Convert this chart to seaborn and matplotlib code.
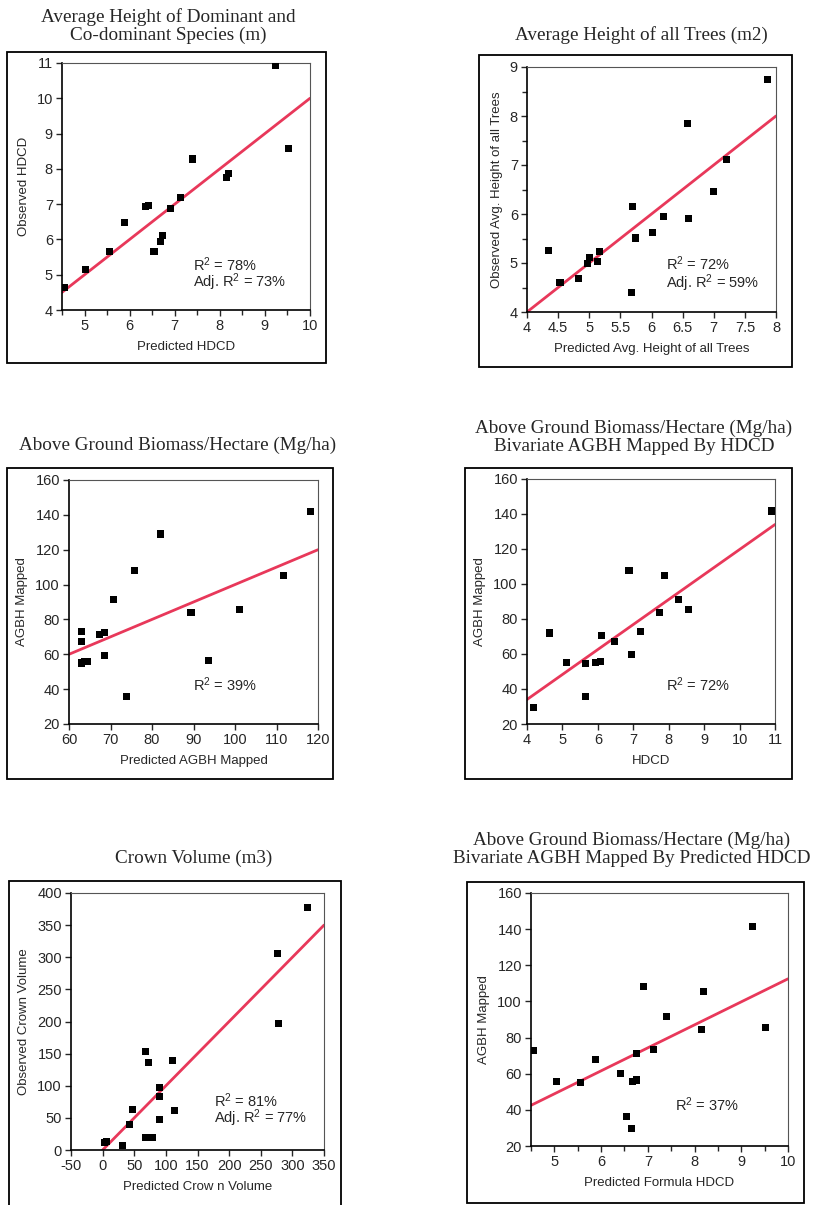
import matplotlib
matplotlib.use('Agg')
import matplotlib.pyplot as plt
import matplotlib.patches as patches
from matplotlib.ticker import MultipleLocator, FormatStrFormatter
import seaborn as sns

sns.set_style('ticks')
plt.rcParams['font.family'] = ['Liberation Sans', 'DejaVu Sans']
plt.rcParams['mathtext.default'] = 'regular'
plt.rcParams['axes.unicode_minus'] = False

W, H = 817, 1205

# 1. Average height of dominant and co-dominant species
hdcd_pred = [4.55, 5.03, 5.56, 5.88, 6.35, 6.42, 6.54, 6.68, 6.73, 6.90, 7.12, 7.40, 8.14, 8.20, 9.23, 9.52]
hdcd_obs = [4.65, 5.15, 5.67, 6.48, 6.93, 6.95, 5.67, 5.95, 6.10, 6.88, 7.20, 8.28, 7.76, 7.86, 10.92, 8.57]
hdcd_fit_x = [4.5, 10]
hdcd_fit_y = [4.5, 10]

# 2. Average height of all trees
aht_pred = [4.34, 4.53, 4.82, 4.97, 5.01, 5.13, 5.16, 5.68, 5.70, 5.74, 6.02, 6.20, 6.58, 6.60, 6.99, 7.20, 7.87]
aht_obs = [5.26, 4.61, 4.68, 4.99, 5.11, 5.03, 5.24, 4.39, 6.16, 5.51, 5.63, 5.94, 7.84, 5.90, 6.46, 7.11, 8.74]
aht_fit_x = [4, 8]
aht_fit_y = [4, 8]

# 3. AGBH predicted vs mapped
agbh_pred = [63.1, 63.1, 63.1, 63.7, 64.4, 67.3, 68.6, 68.6, 70.7, 73.9, 75.7, 82.0, 89.4, 93.7, 101.1, 111.6, 118.2]
agbh_obs = [73.1, 67.4, 55.0, 55.6, 55.6, 71.1, 72.5, 59.5, 91.2, 35.8, 108.2, 129.0, 84.2, 56.3, 85.7, 105.4, 141.8]
agbh_fit_x = [60, 120]
agbh_fit_y = [60, 120]

# 4. AGBH mapped by HDCD
bv_hdcd = [4.18, 4.63, 5.12, 5.65, 5.65, 5.93, 6.07, 6.11, 6.46, 6.88, 6.95, 7.20, 7.75, 7.87, 8.28, 8.56, 10.91]
bv_agbh = [29.3, 72.0, 55.2, 54.6, 35.6, 55.3, 55.9, 70.7, 67.3, 107.9, 59.5, 72.8, 83.9, 105.1, 91.0, 85.4, 141.7]
bv_fit_x = [4, 11]
bv_fit_y = [34, 134]

# 5. Crown volume
cv_pred = [2.6, 6.8, 31.1, 42.6, 46.8, 68.4, 68.4, 72.6, 78.9, 90.5, 90.5, 90.5, 110.5, 114.2, 275.8, 278.4, 323.7]
cv_obs = [11.4, 13.0, 7.3, 39.9, 63.7, 153.4, 19.7, 135.8, 19.7, 97.4, 83.4, 47.2, 139.4, 61.7, 305.7, 197.4, 377.7]
cv_fit_x = [0, 350]
cv_fit_y = [0, 350]

# 6. AGBH mapped by predicted HDCD
bp_hdcd = [4.55, 5.04, 5.56, 5.89, 6.41, 6.55, 6.66, 6.68, 6.76, 6.75, 6.91, 7.13, 7.40, 8.14, 8.19, 9.24, 9.52]
bp_agbh = [72.7, 55.9, 55.2, 67.7, 60.1, 36.2, 29.9, 55.9, 56.5, 71.2, 108.4, 73.3, 91.5, 84.5, 105.5, 141.7, 85.7]
bp_fit_x = [4.5, 10]
bp_fit_y = [42.5, 112.5]

panels = [
    dict(x=hdcd_pred, y=hdcd_obs, fx=hdcd_fit_x, fy=hdcd_fit_y,
         frame=(7, 52, 326, 363), box=(62, 63, 310, 310),
         title='Average Height of Dominant and\nCo-dominant Species (m)', tpos=(168, 26),
         xlim=(4.5, 10), ylim=(4, 11), xmaj=1, xmin=0.5, ymaj=1, ymin=None,
         xlabel='Predicted HDCD', ylabel='Observed HDCD',
         notes=['R$^2$ = 78%', 'Adj. R$^2$ = 73%'], npos=(0.53, 0.159, 0.092)),
    dict(x=aht_pred, y=aht_obs, fx=aht_fit_x, fy=aht_fit_y,
         frame=(479, 55, 792, 367), box=(527, 67, 776, 312),
         title='Average Height of all Trees (m2)', tpos=(641, 35),
         xlim=(4, 8), ylim=(4, 9), xmaj=0.5, xmin=None, ymaj=1, ymin=0.5,
         xlabel='Predicted Avg. Height of all Trees', ylabel='Observed Avg. Height of all Trees',
         notes=['R$^2$ = 72%', 'Adj. R$^2$ = 59%'], npos=(0.558, 0.170, 0.099)),
    dict(x=agbh_pred, y=agbh_obs, fx=agbh_fit_x, fy=agbh_fit_y,
         frame=(7, 468, 333, 779), box=(69, 480, 318, 724),
         title='Above Ground Biomass/Hectare (Mg/ha)', tpos=(178, 445),
         xlim=(60, 120), ylim=(20, 160), xmaj=10, xmin=None, ymaj=20, ymin=None,
         xlabel='Predicted AGBH Mapped', ylabel='AGBH Mapped',
         notes=['R$^2$ = 39%'], npos=(0.496, 0.134, None)),
    dict(x=bv_hdcd, y=bv_agbh, fx=bv_fit_x, fy=bv_fit_y,
         frame=(465, 468, 792, 779), box=(527, 479, 775, 724),
         title='Above Ground Biomass/Hectare (Mg/ha)\nBivariate AGBH Mapped By HDCD', tpos=(634, 437),
         xlim=(4, 11), ylim=(20, 160), xmaj=1, xmin=None, ymaj=20, ymin=None,
         xlabel='HDCD', ylabel='AGBH Mapped',
         notes=['R$^2$ = 72%'], npos=(0.56, 0.135, None)),
    dict(x=cv_pred, y=cv_obs, fx=cv_fit_x, fy=cv_fit_y,
         frame=(9, 881, 341, 1260), box=(71, 893, 324, 1150),
         title='Crown Volume (m3)', tpos=(194, 858),
         xlim=(-50, 350), ylim=(0, 400), xmaj=50, xmin=None, ymaj=50, ymin=None,
         xlabel='Predicted Crow n Volume', ylabel='Observed Crown Volume',
         notes=['R$^2$ = 81%', 'Adj. R$^2$ = 77%'], npos=(0.567, 0.168, 0.104)),
    dict(x=bp_hdcd, y=bp_agbh, fx=bp_fit_x, fy=bp_fit_y,
         frame=(467, 882, 804, 1203), box=(531, 893, 788, 1146),
         title='Above Ground Biomass/Hectare (Mg/ha)\nBivariate AGBH Mapped By Predicted HDCD', tpos=(632, 849),
         xlim=(4.5, 10), ylim=(20, 160), xmaj=1, xmin=0.5, ymaj=20, ymin=None,
         xlabel='Predicted Formula HDCD', ylabel='AGBH Mapped',
         notes=['R$^2$ = 37%'], npos=(0.559, 0.139, None)),
]

fig = plt.figure(figsize=(W / 100, H / 100), dpi=100)

for p in panels:
    # outer frame round each chart
    fx0, fy0, fx1, fy1 = p['frame']
    fig.add_artist(patches.Rectangle((fx0 / W, 1 - fy1 / H), (fx1 - fx0) / W, (fy1 - fy0) / H,
                                     transform=fig.transFigure, fill=False,
                                     edgecolor='black', linewidth=1.3))
    x0, y0, x1, y1 = p['box']
    ax = fig.add_axes([x0 / W, 1 - y1 / H, (x1 - x0) / W, (y1 - y0) / H])

    sns.lineplot(x=p['fx'], y=p['fy'], ax=ax, color='#E8385A', linewidth=2)
    sns.scatterplot(x=p['x'], y=p['y'], ax=ax, marker='s', s=26, color='black',
                    edgecolor='none', zorder=3)

    ax.set_xlim(*p['xlim'])
    ax.set_ylim(*p['ylim'])
    ax.xaxis.set_major_locator(MultipleLocator(p['xmaj']))
    ax.yaxis.set_major_locator(MultipleLocator(p['ymaj']))
    ax.xaxis.set_major_formatter(FormatStrFormatter('%g'))
    ax.yaxis.set_major_formatter(FormatStrFormatter('%g'))
    if p['xmin']:
        ax.xaxis.set_minor_locator(MultipleLocator(p['xmin']))
    if p['ymin']:
        ax.yaxis.set_minor_locator(MultipleLocator(p['ymin']))
    ax.tick_params(which='major', direction='out', length=4.5, width=1, labelsize=10.5, pad=2)
    ax.tick_params(which='minor', direction='out', length=3.5, width=1)
    ax.tick_params(top=False, right=False, which='both')

    for s in ['left', 'bottom']:
        ax.spines[s].set_color('black')
        ax.spines[s].set_linewidth(1.2)
    for s in ['top', 'right']:
        ax.spines[s].set_visible(True)
        ax.spines[s].set_color('#555555')
        ax.spines[s].set_linewidth(0.8)

    ax.set_xlabel(p['xlabel'], fontsize=9.5, labelpad=6)
    ax.set_ylabel(p['ylabel'], fontsize=9.5, labelpad=5)

    nx, ny1, ny2 = p['npos']
    ax.text(nx, ny1, p['notes'][0], transform=ax.transAxes, fontsize=10.5, va='baseline', ha='left')
    if ny2 is not None:
        ax.text(nx, ny2, p['notes'][1], transform=ax.transAxes, fontsize=10.5, va='baseline', ha='left')

    tx, ty = p['tpos']
    fig.text(tx / W, 1 - ty / H, p['title'], ha='center', va='center',
             family='Liberation Serif', fontsize=13.8, linespacing=1.1)

fig.savefig('out.png', dpi=100)
